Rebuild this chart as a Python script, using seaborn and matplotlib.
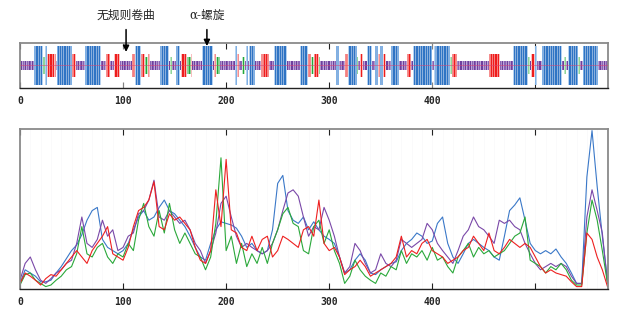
import numpy as np
import pandas as pd
import matplotlib
matplotlib.use("Agg")
import matplotlib.pyplot as plt
import seaborn as sns

# sequence length and secondary structure segments (residue ranges, inclusive)
seqLength = 571
ssStart = [14, 23, 25, 27, 36, 51, 64, 84, 92, 109, 112, 118, 122, 125, 136, 146, 152, 157, 163, 167,
           177, 189, 191, 209, 211, 216, 220, 223, 235, 247, 272, 280, 283, 286, 291, 307, 316, 319, 328,
           331, 337, 345, 348, 350, 353, 361, 376, 382, 403, 418, 420, 456, 479, 494, 497, 501, 507, 529,
           533, 542, 547]
ssEnd = [22, 24, 26, 34, 50, 54, 78, 87, 97, 111, 117, 121, 124, 126, 144, 147, 155, 162, 166, 167,
         187, 190, 194, 210, 212, 218, 221, 228, 241, 259, 279, 282, 285, 290, 291, 309, 318, 327, 328,
         333, 341, 347, 349, 352, 355, 368, 379, 400, 417, 419, 424, 466, 493, 495, 500, 502, 526, 530,
         541, 543, 561]
ssType = ["H", "T", "H", "E", "H", "E", "H", "E", "E", "E", "H", "E", "T", "E", "H", "T", "H", "E", "T", "E",
          "H", "E", "T", "H", "E", "T", "H", "H", "E", "H", "H", "E", "T", "E", "T", "H", "E", "H", "T",
          "E", "H", "H", "E", "H", "E", "H", "E", "H", "H", "T", "E", "E", "H", "T", "E", "H", "H", "T",
          "H", "T", "H"]

# prediction curves, sampled every 5 residues (0 .. 570)
residuePos = list(range(0, 571, 5))
helixScore = [0.035, 0.12, 0.10, 0.08, 0.045, 0.045, 0.055, 0.10, 0.14, 0.19,
              0.24, 0.275, 0.34, 0.43, 0.49, 0.51, 0.31, 0.26, 0.24, 0.22,
              0.24, 0.285, 0.37, 0.45, 0.49, 0.43, 0.45, 0.51, 0.556, 0.49,
              0.47, 0.43, 0.39, 0.33, 0.26, 0.20, 0.18, 0.285, 0.37, 0.42,
              0.41, 0.40, 0.38, 0.33, 0.26, 0.285, 0.24, 0.22, 0.24, 0.37,
              0.66, 0.71, 0.49, 0.43, 0.41, 0.45, 0.37, 0.42, 0.37, 0.33,
              0.31, 0.285, 0.20, 0.10, 0.12, 0.18, 0.22, 0.18, 0.10, 0.09,
              0.12, 0.14, 0.16, 0.17, 0.24, 0.285, 0.31, 0.35, 0.33, 0.285,
              0.30, 0.41, 0.45, 0.285, 0.20, 0.16, 0.22, 0.285, 0.31, 0.285,
              0.26, 0.24, 0.20, 0.18, 0.33, 0.49, 0.525, 0.57, 0.43, 0.285,
              0.24, 0.22, 0.24, 0.22, 0.25, 0.20, 0.16, 0.10, 0.035, 0.035,
              0.70, 0.99, 0.64, 0.33, 0.055]
strandScore = [0.035, 0.10, 0.08, 0.055, 0.025, 0.065, 0.09, 0.08, 0.12, 0.16,
               0.20, 0.24, 0.20, 0.16, 0.24, 0.285, 0.33, 0.39, 0.22, 0.20,
               0.18, 0.26, 0.39, 0.49, 0.51, 0.556, 0.67, 0.39, 0.37, 0.47,
               0.43, 0.45, 0.41, 0.37, 0.26, 0.18, 0.16, 0.24, 0.62, 0.39,
               0.81, 0.37, 0.35, 0.26, 0.24, 0.33, 0.24, 0.31, 0.33, 0.20,
               0.24, 0.33, 0.31, 0.285, 0.26, 0.37, 0.39, 0.33, 0.556, 0.285,
               0.24, 0.26, 0.20, 0.09, 0.12, 0.14, 0.18, 0.14, 0.08, 0.10,
               0.12, 0.14, 0.16, 0.20, 0.33, 0.20, 0.24, 0.22, 0.285, 0.31,
               0.24, 0.22, 0.20, 0.16, 0.18, 0.20, 0.24, 0.26, 0.33, 0.285,
               0.24, 0.35, 0.24, 0.22, 0.26, 0.31, 0.285, 0.26, 0.285, 0.26,
               0.20, 0.14, 0.10, 0.12, 0.10, 0.09, 0.08, 0.045, 0.015, 0.015,
               0.35, 0.31, 0.20, 0.12, 0.015]
turnScore = [0.025, 0.09, 0.10, 0.055, 0.035, 0.015, 0.025, 0.055, 0.08, 0.12,
             0.14, 0.22, 0.39, 0.22, 0.20, 0.26, 0.285, 0.20, 0.16, 0.22,
             0.20, 0.285, 0.24, 0.43, 0.535, 0.39, 0.33, 0.49, 0.35, 0.535,
             0.37, 0.285, 0.35, 0.285, 0.22, 0.20, 0.12, 0.20, 0.41, 0.82,
             0.24, 0.33, 0.16, 0.285, 0.14, 0.22, 0.16, 0.26, 0.16, 0.285,
             0.37, 0.47, 0.51, 0.41, 0.39, 0.24, 0.22, 0.39, 0.43, 0.285,
             0.37, 0.24, 0.16, 0.035, 0.08, 0.18, 0.12, 0.08, 0.055, 0.035,
             0.10, 0.08, 0.14, 0.12, 0.24, 0.16, 0.22, 0.20, 0.24, 0.18,
             0.26, 0.18, 0.20, 0.14, 0.10, 0.20, 0.24, 0.285, 0.20, 0.26,
             0.22, 0.24, 0.20, 0.22, 0.24, 0.285, 0.33, 0.35, 0.45, 0.18,
             0.16, 0.14, 0.10, 0.14, 0.12, 0.16, 0.12, 0.055, 0.025, 0.025,
             0.35, 0.556, 0.43, 0.24, 0.035]
coilScore = [0.055, 0.16, 0.20, 0.12, 0.055, 0.035, 0.065, 0.10, 0.12, 0.16,
             0.18, 0.285, 0.45, 0.285, 0.26, 0.31, 0.43, 0.33, 0.37, 0.24,
             0.26, 0.33, 0.35, 0.47, 0.49, 0.556, 0.68, 0.45, 0.43, 0.49,
             0.45, 0.41, 0.43, 0.37, 0.285, 0.24, 0.16, 0.24, 0.35, 0.535,
             0.58, 0.45, 0.33, 0.26, 0.285, 0.26, 0.24, 0.22, 0.24, 0.285,
             0.37, 0.49, 0.60, 0.62, 0.58, 0.45, 0.33, 0.39, 0.37, 0.51,
             0.43, 0.33, 0.20, 0.10, 0.14, 0.285, 0.24, 0.16, 0.10, 0.12,
             0.22, 0.16, 0.14, 0.18, 0.31, 0.285, 0.26, 0.285, 0.31, 0.41,
             0.37, 0.285, 0.24, 0.20, 0.16, 0.24, 0.33, 0.37, 0.45, 0.39,
             0.37, 0.33, 0.285, 0.43, 0.41, 0.43, 0.39, 0.37, 0.285, 0.22,
             0.16, 0.12, 0.14, 0.16, 0.14, 0.16, 0.14, 0.08, 0.035, 0.035,
             0.45, 0.62, 0.49, 0.35, 0.035]

tickValues = [0, 100, 200, 300, 400, 500]
tickLabels = ["0", "100", "200", "300", "400", ""]

# styling
ssColors = {"H": ("#2f74c4", "#7fb0e4"), "E": ("#ee1c1c", "#f58f8f"),
            "T": ("#22a83a", "#8fd69a"), "C": ("#6e3f9e", "#8a63b6")}
ssHeights = {"H": 0.87, "E": 0.53, "T": 0.36, "C": 0.21}
lineColors = {"helix": "#3a78c8", "strand": "#ee2020", "turn": "#2aa83a", "coil": "#7a48a8"}

sns.set_style("white")
plt.rcParams["font.family"] = ["DejaVu Sans", "Noto Sans CJK SC"]

fig = plt.figure(figsize=(6.18, 3.09), dpi=100)
axTrack = fig.add_axes([20 / 618, 1 - 88 / 309, 588 / 618, 45 / 309])
axCurve = fig.add_axes([20 / 618, 1 - 289 / 309, 588 / 618, 160 / 309])

# per-residue secondary structure
ssPerResidue = ["C"] * (seqLength + 1)
edgeResidue = [False] * (seqLength + 1)
for s, e, t in zip(ssStart, ssEnd, ssType):
    for r in range(s, e + 1):
        ssPerResidue[r] = t
    edgeResidue[s] = True
    edgeResidue[e] = True

resIdx = np.arange(1, seqLength + 1)
barHeights = [ssHeights[ssPerResidue[r]] for r in resIdx]
barBottoms = [0.5 - h / 2 for h in barHeights]
barColors = []
for r in resIdx:
    t = ssPerResidue[r]
    if t == "C":
        barColors.append(ssColors[t][(r // 2) % 2])
    else:
        barColors.append(ssColors[t][1] if edgeResidue[r] else ssColors[t][0])

axTrack.bar(resIdx, barHeights, bottom=barBottoms, width=1.0, color=barColors, linewidth=0)
# thin white separators give the striped look of the residue columns
axTrack.vlines(np.arange(1.5, seqLength, 2.25), 0, 1, color="white", lw=0.45, alpha=0.7, zorder=2)
axTrack.axhline(0.5, color="#e04070", lw=0.5, alpha=0.7, zorder=3)
axTrack.set_xlim(0, seqLength)
axTrack.set_ylim(0, 1)
axTrack.set_yticks([])

# prediction curves
curveFrame = pd.DataFrame({
    "residue": residuePos * 4,
    "score": helixScore + strandScore + turnScore + coilScore,
    "state": ["helix"] * len(residuePos) + ["strand"] * len(residuePos)
             + ["turn"] * len(residuePos) + ["coil"] * len(residuePos),
})
for x in range(10, seqLength, 10):
    axCurve.axvline(x, color="#f8f8fa", lw=0.5, zorder=0)
sns.lineplot(data=curveFrame, x="residue", y="score", hue="state",
             hue_order=["helix", "coil", "turn", "strand"],
             palette=lineColors, linewidth=0.8, legend=False, ax=axCurve)
axCurve.set_xlim(0, seqLength - 0.5)
axCurve.set_ylim(0, 1.0)
axCurve.set_yticks([])
axCurve.set_xlabel("")
axCurve.set_ylabel("")

for ax in (axTrack, axCurve):
    ax.set_xticks(tickValues)
    ax.set_xticklabels(tickLabels, fontsize=7, fontweight="bold", family="DejaVu Sans Mono")
    ax.tick_params(axis="x", direction="in", top=True, bottom=True, length=4, width=0.8,
                   color="#222222", pad=6)
    for side in ("top", "left", "right"):
        ax.spines[side].set_color("#8a8a8a")
        ax.spines[side].set_linewidth(1.3)
    ax.spines["bottom"].set_color("#222222")
    ax.spines["bottom"].set_linewidth(1.0)

# annotations
axTrack.text(103, 1.62, "无规则卷曲", ha="center", va="center", fontsize=8.5, fontweight="medium",
             family=["Noto Sans CJK SC"], transform=axTrack.get_xaxis_transform())
axTrack.annotate("", xy=(103, 0.74), xytext=(103, 1.36),
                 xycoords=axTrack.get_xaxis_transform(), textcoords=axTrack.get_xaxis_transform(),
                 arrowprops=dict(arrowstyle="-|>", color="black", lw=1.1, mutation_scale=9),
                 annotation_clip=False)
axTrack.text(181.5, 1.62, "α-螺旋", ha="center", va="center", fontsize=8.5, fontweight="medium",
             family=["DejaVu Serif", "Noto Sans CJK SC"], transform=axTrack.get_xaxis_transform())
axTrack.annotate("", xy=(181.5, 0.87), xytext=(181.5, 1.36),
                 xycoords=axTrack.get_xaxis_transform(), textcoords=axTrack.get_xaxis_transform(),
                 arrowprops=dict(arrowstyle="-|>", color="black", lw=1.1, mutation_scale=9),
                 annotation_clip=False)

fig.savefig("out.png", dpi=100)
